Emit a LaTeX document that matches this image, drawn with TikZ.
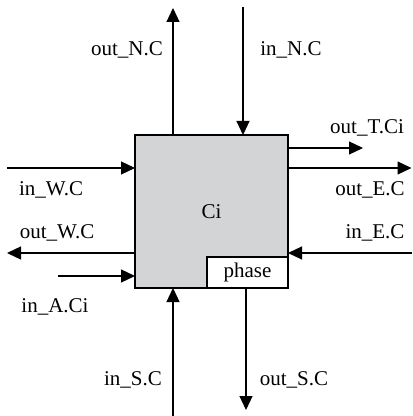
\documentclass[tikz,border=0pt]{standalone}
\usepackage{fontspec}
\setmainfont{Liberation Serif}
\usetikzlibrary{arrows.meta}
\definecolor{boxgray}{RGB}{211,212,214}
\begin{document}
\begin{tikzpicture}[x=0.5pt,y=-0.5pt,
  wire/.style={line width=0.6pt, -{Triangle[length=7pt,width=6.5pt]}},
  lbl/.style={font=\fontsize{10.5}{12}\selectfont, inner sep=0pt},
  cell/.style={draw, line width=0.6pt, inner sep=0pt, outer sep=0pt, font=\fontsize{10.5}{12}\selectfont}]
\useasboundingbox (0,0) rectangle (412,416);
\node[cell, fill=boxgray, minimum width=76.5pt, minimum height=76.5pt] (ci) at (211.5,211.5) {Ci};
\node[cell, fill=white, minimum width=40.5pt, minimum height=15.5pt, anchor=south east] (phase) at (ci.south east) {phase};
% free ends
\coordinate (nOut) at (173,8);
\coordinate (nIn) at (243,7);
\coordinate (tOut) at (363,148);
\coordinate (eOut) at (411.5,168);
\coordinate (wIn) at (7,168);
\coordinate (wOut) at (7,253);
\coordinate (aIn) at (58,276);
\coordinate (eIn) at (412,253);
\coordinate (sIn) at (173,416);
\coordinate (sOut) at (246,410);
% connectors
\draw[wire] (nOut |- ci.north) -- (nOut);
\draw[wire] (nIn) -- (nIn |- ci.north);
\draw[wire] (tOut -| ci.east) -- (tOut);
\draw[wire] (eOut -| ci.east) -- (eOut);
\draw[wire] (wIn) -- (wIn -| ci.west);
\draw[wire] (wOut -| ci.west) -- (wOut);
\draw[wire] (aIn) -- (aIn -| ci.west);
\draw[wire] (eIn) -- (eIn -| ci.east);
\draw[wire] (sIn) -- (sIn |- ci.south);
\draw[wire] (sOut |- phase.south) -- (sOut);
% labels
\node[lbl] (lnOut) at (127,50) {out\_N.C};
\node[lbl] (lnIn) at (291,50) {in\_N.C};
\node[lbl] (ltOut) at (367,128) {out\_T.Ci};
\node[lbl] (lwIn) at (51,190) {in\_W.C};
\node[lbl] (leOut) at (370,190) {out\_E.C};
\node[lbl] (lwOut) at (57,233) {out\_W.C};
\node[lbl] (leIn) at (375,233) {in\_E.C};
\node[lbl] (laIn) at (55,307) {in\_A.Ci};
\node[lbl] (lsIn) at (133,380) {in\_S.C};
\node[lbl] (lsOut) at (294,380) {out\_S.C};
\end{tikzpicture}
\end{document}
